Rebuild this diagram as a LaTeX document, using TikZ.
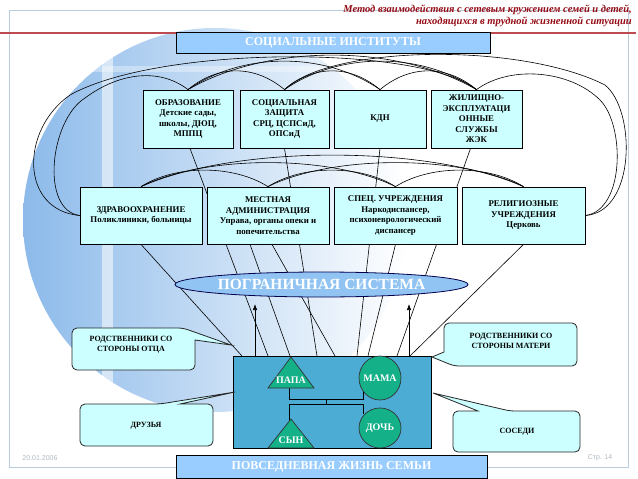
\documentclass[tikz,border=0pt]{standalone}
\usepackage{fontspec}
\setmainfont{Liberation Serif}
\newfontfamily\footsans{Liberation Sans}
\usetikzlibrary{calc,arrows.meta,shapes.geometric}
\pgfdeclarelayer{deco}
\pgfdeclarelayer{links}
\pgfsetlayers{deco,links,main}
\definecolor{boxcyan}{RGB}{204,255,255}
\definecolor{barblue}{RGB}{153,204,255}
\definecolor{ellblue}{RGB}{145,196,243}
\definecolor{famblue}{RGB}{76,172,212}
\definecolor{famgreen}{RGB}{20,176,136}
\definecolor{hdrred}{RGB}{150,10,20}
\definecolor{linered}{RGB}{190,75,80}
\definecolor{framegray}{RGB}{185,205,222}
\definecolor{footgray}{RGB}{175,185,195}
\definecolor{sph}{RGB}{140,186,234}
\begin{document}
\begin{tikzpicture}[x=1pt,y=-1pt,
  inst/.style={draw=black, line width=0.8pt, fill=boxcyan, align=center, inner sep=1pt,
    font=\bfseries\fontsize{8.8}{10.5}\selectfont},
  bar/.style={draw=black, line width=0.9pt, fill=barblue, text=white, inner sep=0pt,
    font=\bfseries\fontsize{12}{14}\selectfont},
  link/.style={draw=black, line width=0.6pt},
  callout/.style={draw=black!85, line width=0.8pt, fill=boxcyan, rounded corners=5pt},
  calltext/.style={align=center, font=\bfseries\fontsize{8}{10}\selectfont},
  famtext/.style={text=white, inner sep=0pt, font=\bfseries\fontsize{10}{12}\selectfont},
  member/.style={draw=black!80, line width=0.7pt, fill=famgreen},
]
\useasboundingbox (0,0) rectangle (638,479);

% ---------- decoration ----------
\begin{pgfonlayer}{deco}
  \fill[white] (0,0) rectangle (638,479);
  \shade[left color=sph, middle color=sph!35!white, right color=white] (215,220) circle[radius=192];
  \fill[white, opacity=.55] (102,40) rectangle (113,420);
  \fill[white, opacity=.35] (40,66) rectangle (330,72);
  \draw[framegray, line width=0.8pt] (9,10) rectangle (628,467);
  \draw[linered, line width=2pt] (0,33) -- (636,33);
  \node[anchor=north east, align=right, text=hdrred, inner sep=0pt,
        font=\bfseries\itshape\fontsize{10.5}{12}\selectfont] (hdr) at (632,5)
        {Метод взаимодействия с сетевым кружением семей и детей,\\находящихся в трудной жизненной ситуации};
  \node[text=footgray, font=\footsans\fontsize{7}{8}\selectfont] (date) at (40,458) {20.01.2006};
  \node[text=footgray, font=\footsans\fontsize{7}{8}\selectfont] (page) at (600,458) {Стр. 14};
\end{pgfonlayer}

% ---------- nodes ----------
\node[bar, minimum width=314, minimum height=21] (soci) at (333,42.5) {СОЦИАЛЬНЫЕ ИНСТИТУТЫ};

\node[inst, minimum width=90, minimum height=58] (obr) at (188,119)
  {ОБРАЗОВАНИЕ\\Детские сады,\\школы, ДЮЦ,\\МППЦ};
\node[inst, minimum width=89, minimum height=58] (soc) at (284.5,119)
  {СОЦИАЛЬНАЯ\\ЗАЩИТА\\СРЦ, ЦСПСиД,\\ОПСиД};
\node[inst, minimum width=92, minimum height=58] (kdn) at (380,119) {КДН};
\node[inst, minimum width=91, minimum height=58] (zhil) at (476.5,119)
  {ЖИЛИЩНО-\\ЭКСПЛУАТАЦИ\\ОННЫЕ\\СЛУЖБЫ\\ЖЭК};

\node[inst, minimum width=122, minimum height=57] (zdr) at (141,215.5)
  {ЗДРАВООХРАНЕНИЕ\\Поликлиники, больницы};
\node[inst, minimum width=122, minimum height=57] (mest) at (268,215.5)
  {МЕСТНАЯ\\АДМИНИСТРАЦИЯ\\Управа, органы опеки и\\попечительства};
\node[inst, minimum width=123, minimum height=57] (spec) at (395.5,215.5)
  {СПЕЦ. УЧРЕЖДЕНИЯ\\Наркодиспансер,\\психоневрологический\\диспансер};
\node[inst, minimum width=123, minimum height=57] (relig) at (523.5,215.5)
  {РЕЛИГИОЗНЫЕ\\УЧРЕЖДЕНИЯ\\Церковь};

\node[ellipse, draw=black!70!blue, line width=0.8pt, fill=ellblue, minimum width=293, minimum height=25,
      inner sep=0pt] (bord) at (321.5,284.5) {};
\node[text=white, inner sep=0pt, font=\bfseries\fontsize{15.5}{17}\selectfont] (bordtext) at (bord.center)
  {ПОГРАНИЧНАЯ СИСТЕМА};

% family
\node[draw=black, line width=0.8pt, fill=famblue, minimum width=198, minimum height=92] (famb) at (332,402) {};
\draw[black, line width=0.8pt] (289,388) -- (289,399) -- (363,399) -- (363,390);
\draw[black, line width=0.8pt] (326,399) -- (326,404);
\draw[black, line width=0.8pt] (289,422) -- (289,404) -- (363,404) -- (363,414);
\filldraw[member] (291,357) -- (314,388) -- (268,388) -- cycle;
\filldraw[member] (291,419) -- (314,448) -- (268,448) -- cycle;
\filldraw[member] (380,378) ellipse[x radius=21, y radius=22];
\filldraw[member] (380,428) ellipse[x radius=21, y radius=20];
\node[famtext] (papa) at (291,380) {ПАПА};
\node[famtext] (mama) at (380,378) {МАМА};
\node[famtext] (syn) at (291,440) {СЫН};
\node[famtext] (doch) at (380,428) {ДОЧЬ};

\node[bar, minimum width=311, minimum height=23] (daily) at (331.5,467) {ПОВСЕДНЕВНАЯ ЖИЗНЬ СЕМЬИ};

% callouts
\filldraw[callout] (72,349) -- (72,328) -- (183,328) [sharp corners] -- (231,345) -- (195,340)
  [rounded corners=5pt] -- (195,370) -- (72,370) -- cycle;
\node[calltext] (otca) at (131,345) {РОДСТВЕННИКИ СО\\СТОРОНЫ ОТЦА};
\filldraw[callout] (510,323) -- (577,323) -- (577,366) -- (454,366) [sharp corners] -- (432,357) -- (444,352)
  [rounded corners=5pt] -- (444,323) -- cycle;
\node[calltext] (mat) at (511,341) {РОДСТВЕННИКИ СО\\СТОРОНЫ МАТЕРИ};
\filldraw[callout] (80,425) -- (80,404) -- (160,404) [sharp corners] -- (235,392) -- (180,404)
  [rounded corners=5pt] -- (213,404) -- (213,446) -- (80,446) -- cycle;
\node[calltext] (druz) at (146,426) {ДРУЗЬЯ};
\filldraw[callout] (580,432) -- (580,411) -- (510,411) [sharp corners] -- (433,393) -- (478,411)
  [rounded corners=5pt] -- (453,411) -- (453,452) -- (580,452) -- cycle;
\node[calltext] (sos) at (517,432) {СОСЕДИ};

% ---------- connectors ----------
\coordinate (f1) at (242,356);
\coordinate (f2) at (268,356);
\coordinate (f3) at (290,356);
\coordinate (f4) at (317,356);
\coordinate (f5) at (335,356);
\coordinate (f6) at (357,356);
\coordinate (f7) at (368,356);
\coordinate (f8) at (397,356);
\coordinate (f9) at (410,356);
\coordinate (a1) at (255,356);
\coordinate (a1t) at (255,304);
\coordinate (a2) at (409,356);
\coordinate (a2t) at (409,304);

\begin{pgfonlayer}{links}
  % arcs between the upper institutions
  \draw[link] (obr.north) .. controls +(30,-25) and +(-30,-25) .. (soc.north);
  \draw[link] (soc.north) .. controls +(30,-25) and +(-30,-25) .. (kdn.north);
  \draw[link] (kdn.north) .. controls +(30,-25) and +(-30,-25) .. (zhil.north);
  \draw[link] (obr.north) .. controls +(55,-38) and +(-55,-38) .. (kdn.north);
  \draw[link] (soc.north) .. controls +(55,-38) and +(-55,-38) .. (zhil.north);
  \draw[link] (obr.north) .. controls +(80,-46) and +(-80,-46) .. (zhil.north);
  % side loops
  \draw[link] (obr.north) .. controls (160,68) and (120,72) .. (85,98) .. controls (50,120) and (40,210) .. (zdr.west);
  \draw[link] (zhil.north) .. controls (420,45) and (160,45) .. (70,95) .. controls (20,130) and (20,210) .. (zdr.west);
  \draw[link] (zhil.north) .. controls (510,65) and (570,70) .. (600,100) .. controls (625,125) and (625,210) .. (relig.east);
  \draw[link] (soc.north) .. controls (330,45) and (520,42) .. (605,85) .. controls (636,110) and (636,212) .. (relig.east);
  % arcs between the lower institutions
  \draw[link] (zdr.north) .. controls +(35,-22) and +(-35,-22) .. (mest.north);
  \draw[link] (mest.north) .. controls +(35,-22) and +(-35,-22) .. (spec.north);
  \draw[link] (spec.north) .. controls +(35,-22) and +(-35,-22) .. (relig.north);
  \draw[link] (zdr.north) .. controls +(65,-32) and +(-65,-32) .. (spec.north);
  \draw[link] (mest.north) .. controls +(65,-32) and +(-65,-32) .. (relig.north);
  \draw[link] (zdr.north) .. controls +(95,-42) and +(-95,-42) .. (relig.north);
  % fan to the family
  \draw[link] ($(obr.south)+(2,0)$) -- (f2);
  \draw[link] (soc.south) -- (f4);
  \draw[link] (kdn.south) -- (f6);
  \draw[link] ($(zhil.south)+(-6,0)$) -- (f8);
  \draw[link] (zdr.south) -- (f1);
  \draw[link] ($(mest.south)+(-18,0)$) -- (f3);
  \draw[link] ($(mest.south)+(4,0)$) -- (f5);
  \draw[link] (spec.south) -- (f7);
  \draw[link] (relig.south) -- (f9);
  \draw[link, -{Latex[length=6pt,width=4.5pt]}] (a1) -- (a1t);
  \draw[link, -{Latex[length=6pt,width=4.5pt]}] (a2) -- (a2t);
\end{pgfonlayer}
\end{tikzpicture}
\end{document}
